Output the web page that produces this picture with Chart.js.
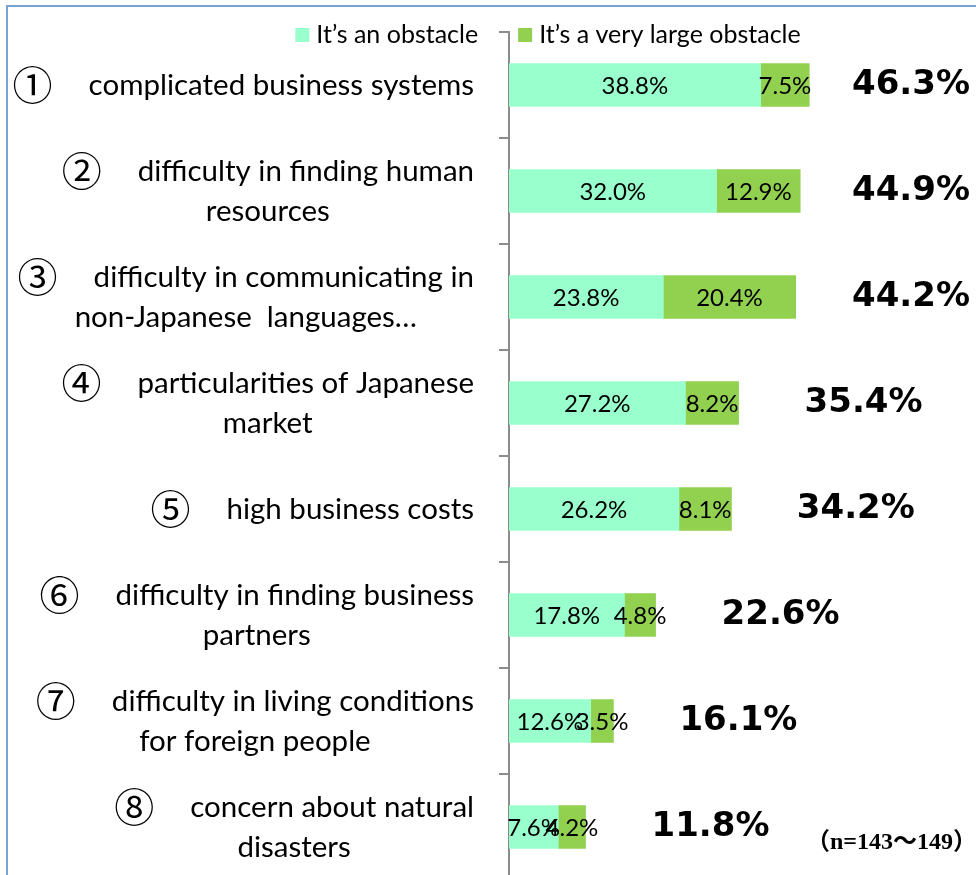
<!DOCTYPE html>
<html>
<head>
<meta charset="utf-8">
<script src="https://cdn.jsdelivr.net/npm/chart.js@4.4.1/dist/chart.umd.min.js"></script>
<style>
  html, body { margin: 0; padding: 0; background: #fff; overflow: hidden; }
  #wrap { position: relative; width: 976px; height: 880px; }
  #frame { position: absolute; left: 6px; top: 5px; right: -10px; bottom: -10px;
           border-top: 2px solid #7ba0d6; border-left: 2px solid #7ba0d6; pointer-events: none; }
</style>
</head>
<body>
<div id="wrap">
  <canvas id="chart" width="976" height="880"></canvas>
  <div id="frame"></div>
</div>
<script>
// data
const circled = ['①', '②', '③', '④', '⑤', '⑥', '⑦', '⑧'];
const categoryLines = [
  ['complicated business systems'],
  ['difficulty in finding human', 'resources'],
  ['difficulty in communicating in', 'non-Japanese  languages…'],
  ['particularities of Japanese', 'market'],
  ['high business costs'],
  ['difficulty in finding business', 'partners'],
  ['difficulty in living conditions', 'for foreign people'],
  ['concern about natural', 'disasters']
];
const obstacle = [38.8, 32.0, 23.8, 27.2, 26.2, 17.8, 12.6, 7.6];
const veryLarge = [7.5, 12.9, 20.4, 8.2, 8.1, 4.8, 3.5, 4.2];
const totals = [46.3, 44.9, 44.2, 35.4, 34.2, 22.6, 16.1, 11.8];
const seriesNames = ['It\u2019s an obstacle', 'It\u2019s a very large obstacle'];
const sampleNote = '（n=143～149）';

const LIGHT = '#99ffcc';
const DARK = '#92d050';
const AXIS = '#8c8c8c';

// labels, legend, totals - all drawn on top of the bars
const annotate = {
    id: 'annotate',
    afterDraw(chart) {
        const ctx = chart.ctx;
        const xs = chart.scales.x;
        const ys = chart.scales.y;
        ctx.save();
        ctx.fillStyle = '#000';
        ctx.textBaseline = 'middle';

        // category labels: block right aligned, lines centred inside the block
        const labelRight = 474, lineH = 40, numGap = 36;
        const textFont = '29.5px Lato', numFont = '40px "Noto Sans CJK JP"';
        categoryLines.forEach((lines, i) => {
            const yc = ys.getPixelForValue(i);
            ctx.font = textFont;
            const widths = lines.map(t => ctx.measureText(t).width);
            ctx.font = numFont;
            const numW = ctx.measureText(circled[i]).width;
            widths[0] += numW + numGap;
            const blockW = Math.max(...widths);
            const cx = labelRight - blockW / 2;
            const top = yc - (lines.length - 1) * lineH / 2;
            ctx.textAlign = 'left';
            lines.forEach((t, k) => {
                let left = cx - widths[k] / 2;
                const y = top + k * lineH;
                if (k === 0) {
                    ctx.font = numFont;
                    ctx.fillText(circled[i], left, y);
                    left += numW + numGap;
                }
                ctx.font = textFont;
                ctx.fillText(t, left, y);
            });
        });

        // values inside segments
        ctx.font = '24px Lato';
        ctx.textAlign = 'center';
        chart.data.datasets.forEach((ds, d) => {
            chart.getDatasetMeta(d).data.forEach((bar, i) => {
                const p = bar.getProps(['x', 'base', 'y'], true);
                ctx.fillText(ds.data[i].toFixed(1) + '%', (p.x + p.base) / 2, p.y + 1);
            });
        });

        // totals
        ctx.font = 'bold 34px "DejaVu Sans"';
        ctx.textAlign = 'left';
        totals.forEach((v, i) => {
            const txt = v.toFixed(1) + '%';
            const w = ctx.measureText(txt).width;
            const x = Math.min(xs.getPixelForValue(v) + 66, chart.width - 6 - w);
            ctx.fillText(txt, x, ys.getPixelForValue(i));
        });

        // legend
        ctx.font = '25px Lato';
        const box = 14, boxGap = 7, itemGap = 40;
        const items = chart.data.datasets.map(ds => ({ label: ds.label, color: ds.backgroundColor,
            w: box + boxGap + ctx.measureText(ds.label).width }));
        const totalW = items.reduce((s, it) => s + it.w, 0) + itemGap * (items.length - 1);
        let lx = 548 - totalW / 2;
        const ly = 35;
        items.forEach(it => {
            ctx.fillStyle = it.color;
            ctx.fillRect(lx, ly - box / 2, box, box);
            ctx.fillStyle = '#000';
            ctx.fillText(it.label, lx + box + boxGap, ly);
            lx += it.w + itemGap;
        });

        // sample size note
        ctx.font = 'bold 24px "Liberation Serif", "Noto Sans CJK JP"';
        ctx.textAlign = 'right';
        ctx.fillText(sampleNote, 977, 843);
        ctx.restore();
    }
};

new Chart(document.getElementById('chart'), {
    type: 'bar',
    data: {
        labels: categoryLines.map(l => l.join(' ')),
        datasets: [
            { label: seriesNames[0], data: obstacle, backgroundColor: LIGHT, barThickness: 43 },
            { label: seriesNames[1], data: veryLarge, backgroundColor: DARK, barThickness: 43 }
        ]
    },
    options: {
        indexAxis: 'y',
        responsive: false,
        animation: false,
        layout: { padding: { top: 32, right: 13, bottom: 0, left: 0 } },
        plugins: { legend: { display: false }, tooltip: { enabled: false } },
        scales: {
            x: { stacked: true, min: 0, max: 70, display: false },
            y: {
                stacked: true,
                grid: { display: true, drawOnChartArea: false, drawTicks: true, tickLength: 10,
                        color: AXIS, lineWidth: 2, offset: true },
                border: { display: true, color: AXIS, width: 2 },
                ticks: { display: false },
                afterFit(scale) { scale.width = 509; }
            }
        }
    },
    plugins: [annotate]
});
</script>
</body>
</html>
